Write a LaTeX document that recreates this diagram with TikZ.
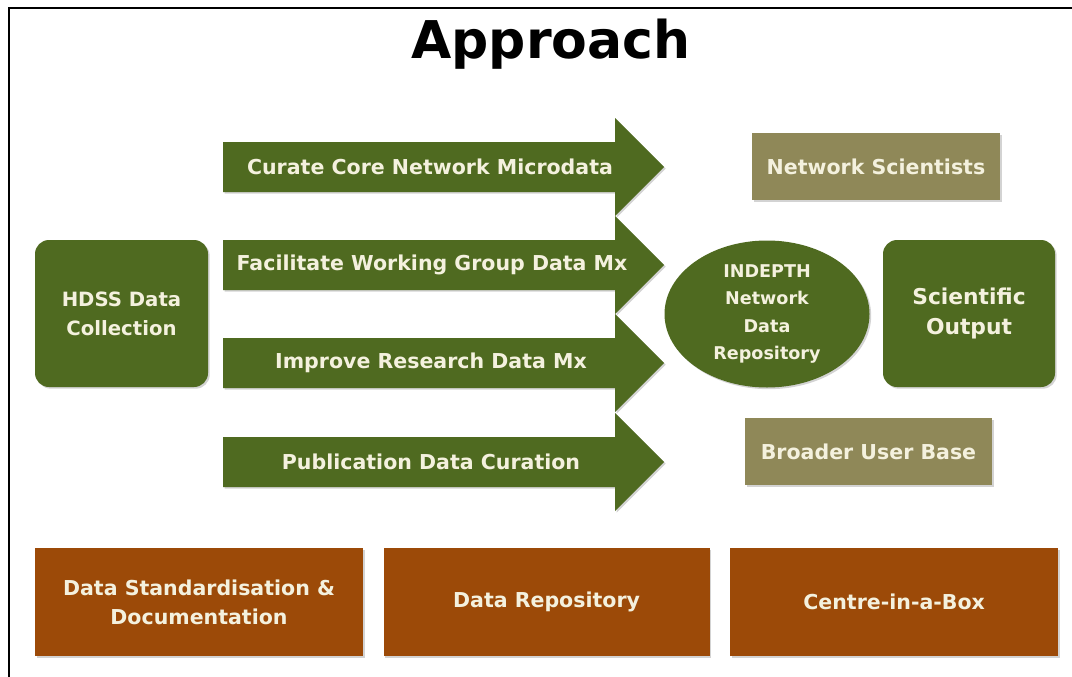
\documentclass[tikz,border=0pt]{standalone}
\usepackage{fontspec}
\setmainfont{DejaVu Sans}
\usepackage{tikz}
\usetikzlibrary{shapes.geometric,positioning,shadows}
\definecolor{hdssgreen}{HTML}{4F6A20}
\definecolor{usertan}{HTML}{8F8858}
\definecolor{basebrown}{HTML}{9C4A08}
\definecolor{labelcream}{HTML}{F4F1DE}
\newlength\px
\setlength\px{0.025cm}
\tikzset{
  label text/.style = {text=labelcream, font=\bfseries\fontsize{14.6}{20.5}\selectfont, align=center, inner sep=0pt},
  shade/.style = {drop shadow={shadow xshift=1.2pt, shadow yshift=-1.2pt, opacity=0.35}},
  greenbox/.style = {label text, fill=hdssgreen, rectangle, rounded corners=14\px, shade},
  userbox/.style = {label text, fill=usertan, rectangle, shade},
  basebox/.style = {label text, fill=basebrown, rectangle, minimum height=108\px, shade},
  repo/.style = {label text, fill=hdssgreen, ellipse, font=\bfseries\fontsize{12.5}{19.5}\selectfont, shade},
  flow/.style = {fill=hdssgreen, shade}
}

\begin{document}
\begin{tikzpicture}[x=1\px, y=-1\px]
        \useasboundingbox (0,0) rectangle (1072,677);
        \draw[line width=2pt] (9,677) -- (9,8) -- (1072,8);
        \node[anchor=base, font=\bfseries\fontsize{37}{42}\selectfont, inner sep=0pt] (title) at (551,58) {Approach};

        % left and right blocks
        \node[greenbox, font=\bfseries\fontsize{14}{20.5}\selectfont, minimum width=173\px, minimum height=147\px] (hdss) at (121.5,313.5) {HDSS Data\\Collection};
        \node[repo, minimum width=205\px, minimum height=147\px] (repository) at (767,314) {INDEPTH\\Network\\Data\\Repository};
        \node[greenbox, font=\bfseries\fontsize{15.5}{21}\selectfont, minimum width=172\px, minimum height=147\px] (output) at (969,313.5) {Scientific\\Output};
        \node[userbox, minimum width=248\px, minimum height=67\px] (scientists) at (876,166.5) {Network Scientists};
        \node[userbox, minimum width=247\px, minimum height=67\px] (users) at (868.5,451.5) {Broader User Base};

        % the four big arrows
        \fill[flow] (223,142) -- (615,142) -- (615,118) -- (664,167) -- (615,216) -- (615,192) -- (223,192) -- cycle;
        \fill[flow] (223,240) -- (615,240) -- (615,216) -- (664,265) -- (615,314) -- (615,290) -- (223,290) -- cycle;
        \fill[flow] (223,338) -- (615,338) -- (615,314) -- (664,363) -- (615,412) -- (615,388) -- (223,388) -- cycle;
        \fill[flow] (223,437) -- (615,437) -- (615,413) -- (664,462) -- (615,511) -- (615,487) -- (223,487) -- cycle;
        \node[label text] (curate) at (430,167) {Curate Core Network Microdata};
        \node[label text] (facilitate) at (432,265) {Facilitate Working Group Data Mx};
        \node[label text] (improve) at (431,363) {Improve Research Data Mx};
        \node[label text] (publication) at (431,462) {Publication Data Curation};

        % foundation row
        \node[basebox, minimum width=328\px] (standard) at (199,602) {Data Standardisation \&\\Documentation};
        \node[basebox, minimum width=326\px, right=20\px of standard] (datarepo) {Data Repository};
        \node[basebox, minimum width=328\px, right=20\px of datarepo] (centre) {Centre-in-a-Box};
    \end{tikzpicture}
\end{document}
